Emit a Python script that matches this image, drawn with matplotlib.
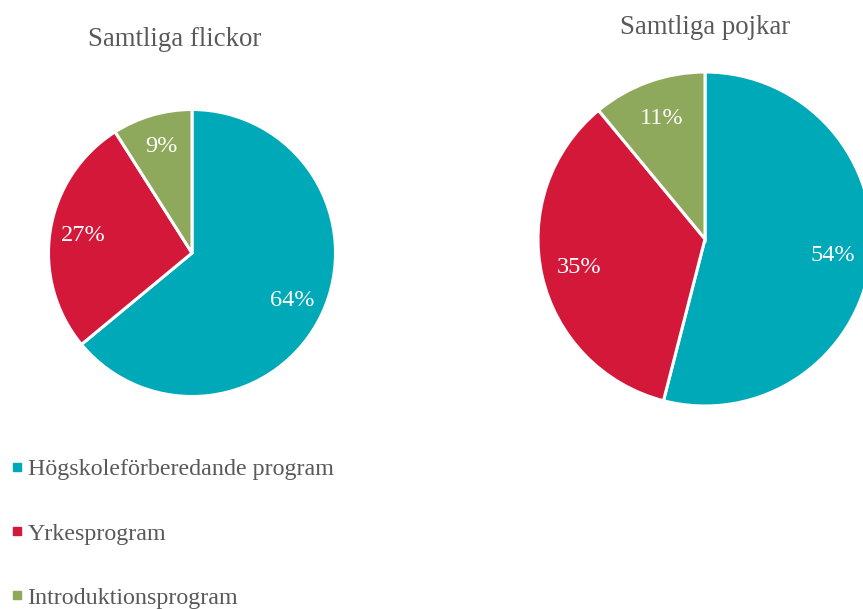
import matplotlib
matplotlib.use("Agg")
import matplotlib.pyplot as plt
from matplotlib.lines import Line2D

categories = ["Högskoleförberedande program", "Yrkesprogram", "Introduktionsprogram"]
flickor = [64, 27, 9]
pojkar = [54, 35, 11]
titles = ["Samtliga flickor", "Samtliga pojkar"]
colors = ["#00A9B8", "#D4183A", "#8FA95C"]
text_gray = "#595959"

plt.rcParams['font.family'] = ['Liberation Serif', 'DejaVu Serif']

W, H = 863, 609
fig = plt.figure(figsize=(W / 100, H / 100), dpi=100)

def add_pie_axes(cx, cy, r):
    ax = fig.add_axes([(cx - r) / W, (H - cy - r) / H, 2 * r / W, 2 * r / H])
    return ax

def draw(ax, vals):
    ax.pie(vals, colors=colors, startangle=90, counterclock=False,
           autopct=lambda p: f"{p:.0f}%", pctdistance=0.77,
           wedgeprops=dict(edgecolor="white", linewidth=2.2),
           textprops=dict(color="white", fontsize=17.5), radius=1)
    ax.set_xlim(-1, 1)
    ax.set_ylim(-1, 1)
    ax.set_aspect("equal")

ax1 = add_pie_axes(192, 253, 143.5)
draw(ax1, flickor)
ax2 = add_pie_axes(705, 239, 167)
draw(ax2, pojkar)

fig.text(175 / W, 1 - 39 / H, titles[0], ha="center", va="center", fontsize=19.3, color=text_gray)
fig.text(705 / W, 1 - 27 / H, titles[1], ha="center", va="center", fontsize=19.3, color=text_gray)

handles = [Line2D([], [], marker="s", linestyle="none", markersize=6, color=c) for c in colors]
leg = fig.legend(handles, categories, loc="upper left", bbox_to_anchor=(0 / W, 1 - 449 / H),
                 frameon=False, fontsize=17.3, labelspacing=1.76, handlelength=0.6,
                 handletextpad=0.15, labelcolor=text_gray, borderaxespad=0)

fig.savefig("out.png", dpi=100)
